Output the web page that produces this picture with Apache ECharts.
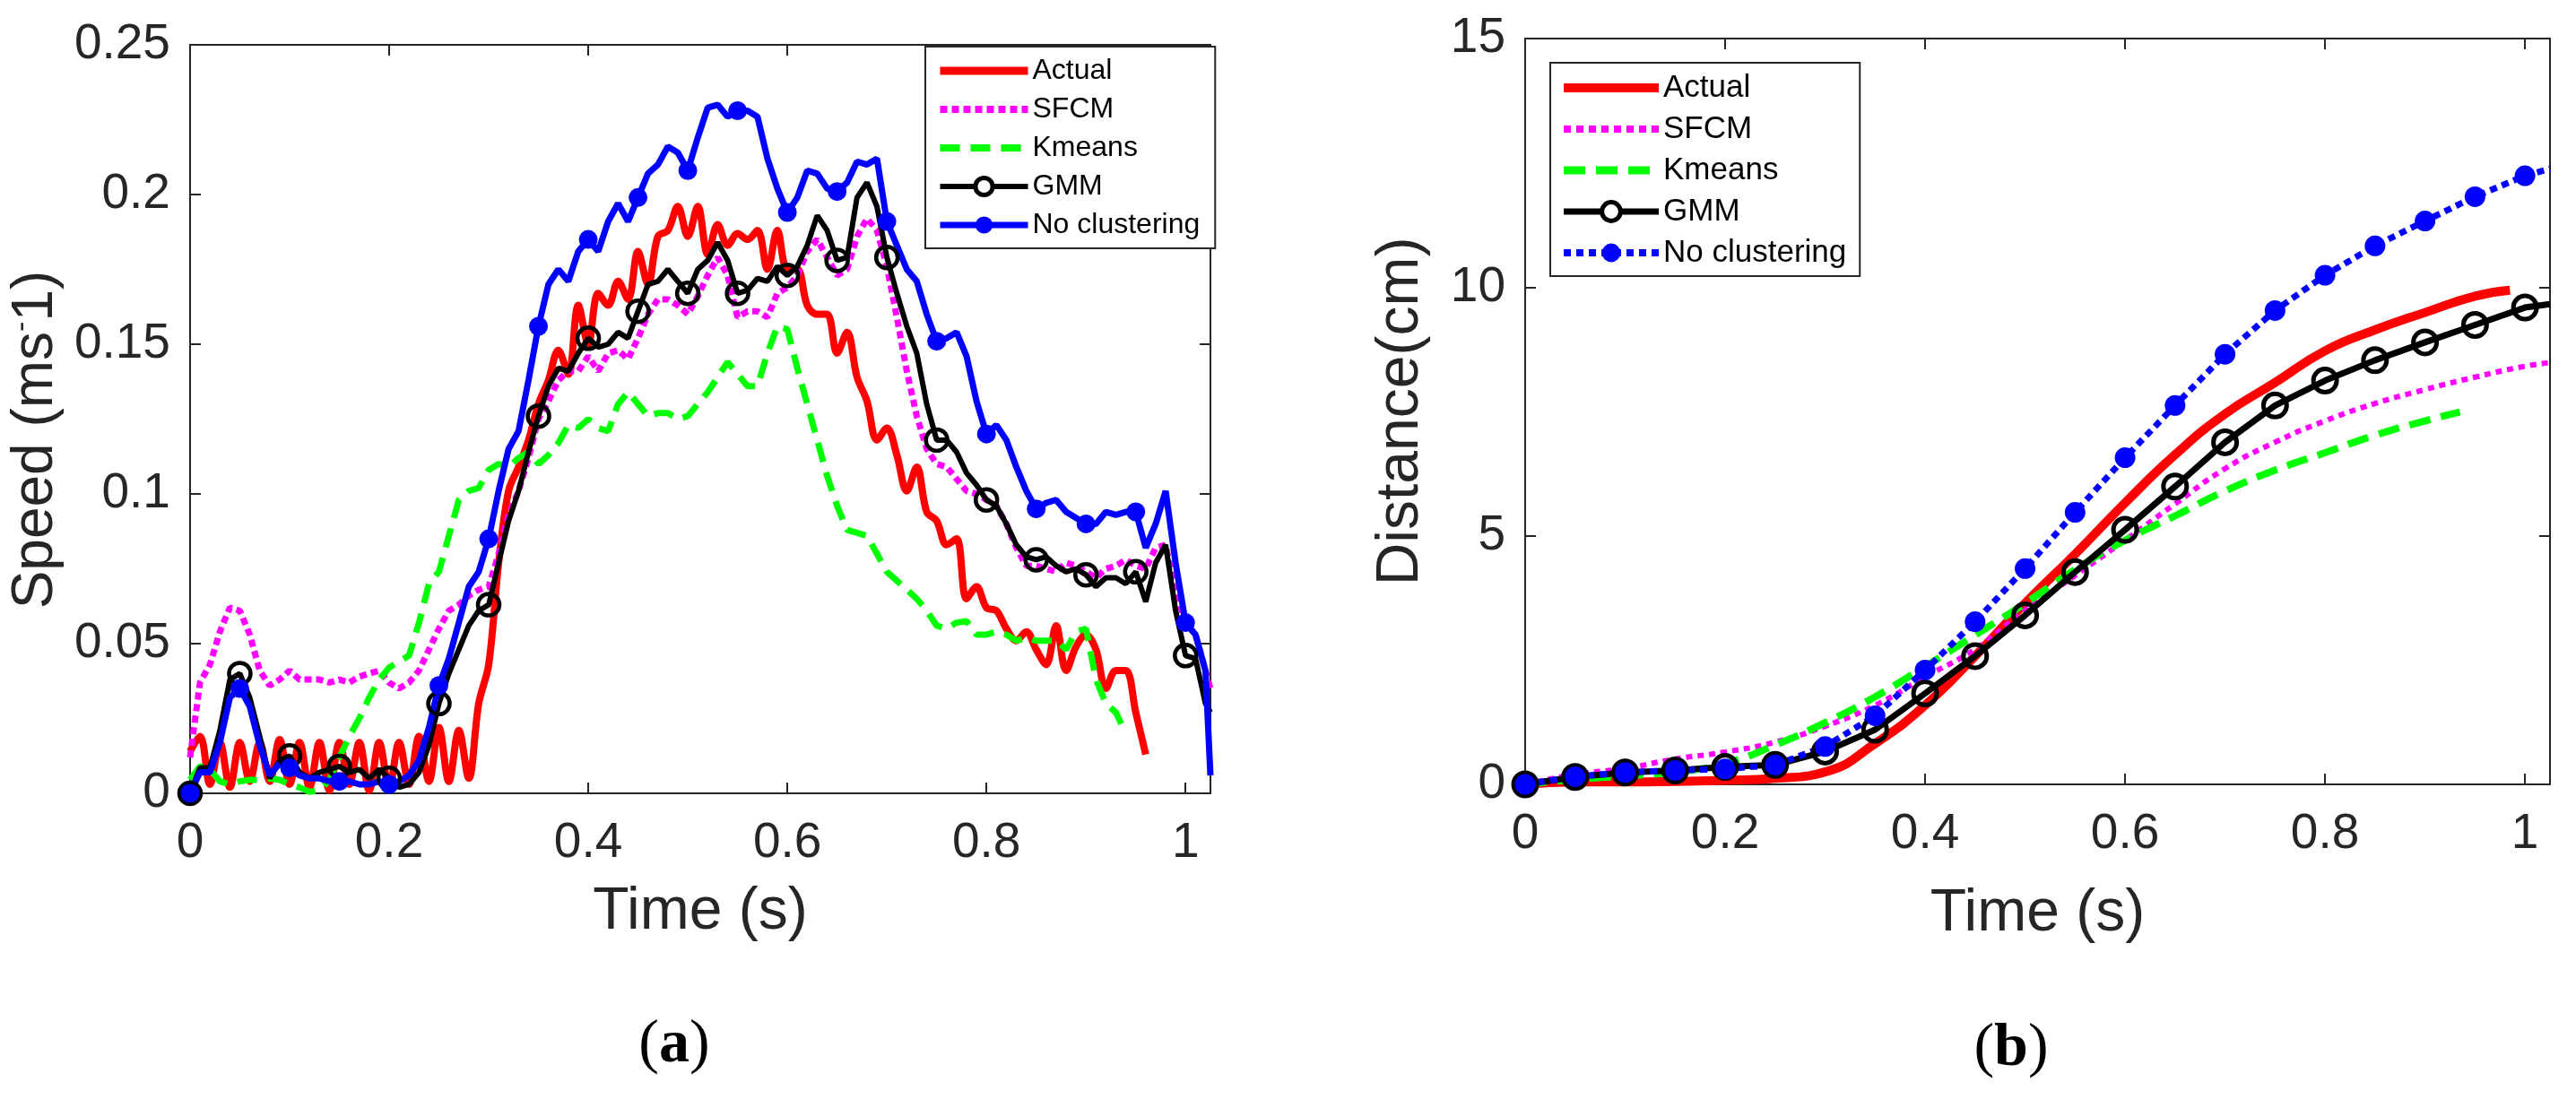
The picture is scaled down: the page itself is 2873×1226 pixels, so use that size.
<!DOCTYPE html>
<html>
<head>
<meta charset="utf-8">
<script src="https://cdn.jsdelivr.net/npm/echarts@6/dist/echarts.min.js"></script>
<style>
  html, body { margin: 0; padding: 0; background: #fff; }
  #chartA { position: absolute; left: 0; top: 0; width: 1436px; height: 1226px; }
  #chartB { position: absolute; left: 1436px; top: 0; width: 1437px; height: 1226px; }
</style>
</head>
<body>
<div id="chartA"></div>
<div id="chartB"></div>
<script>
// ---- (a) speed, sampled every 0.01 s ----
const timeA = [
  0, 0.01, 0.02, 0.03, 0.04, 0.05, 0.06, 0.07, 0.08, 0.09,
  0.1, 0.11, 0.12, 0.13, 0.14, 0.15, 0.16, 0.17, 0.18, 0.19,
  0.2, 0.21, 0.22, 0.23, 0.24, 0.25, 0.26, 0.27, 0.28, 0.29,
  0.3, 0.31, 0.32, 0.33, 0.34, 0.35, 0.36, 0.37, 0.38, 0.39,
  0.4, 0.41, 0.42, 0.43, 0.44, 0.45, 0.46, 0.47, 0.48, 0.49,
  0.5, 0.51, 0.52, 0.53, 0.54, 0.55, 0.56, 0.57, 0.58, 0.59,
  0.6, 0.61, 0.62, 0.63, 0.64, 0.65, 0.66, 0.67, 0.68, 0.69,
  0.7, 0.71, 0.72, 0.73, 0.74, 0.75, 0.76, 0.77, 0.78, 0.79,
  0.8, 0.81, 0.82, 0.83, 0.84, 0.85, 0.86, 0.87, 0.88, 0.89,
  0.9, 0.91, 0.92, 0.93, 0.94, 0.95, 0.96, 0.97, 0.98, 0.99,
  1, 1.01, 1.02, 1.025
];

const speedActual = [
  0.014, 0.019, 0.003, 0.017, 0.002, 0.017, 0.004, 0.017, 0.004, 0.018,
  0.003, 0.017, 0.002, 0.017, 0.001, 0.017, 0.003, 0.017, 0.001, 0.017,
  0.002, 0.017, 0.003, 0.019, 0.004, 0.022, 0.004, 0.021, 0.005, 0.030,
  0.043, 0.077, 0.101, 0.109, 0.118, 0.130, 0.138, 0.148, 0.140, 0.163,
  0.150, 0.167, 0.163, 0.171, 0.165, 0.181, 0.170, 0.186, 0.188, 0.196,
  0.186, 0.196, 0.180, 0.190, 0.183, 0.187, 0.185, 0.188, 0.175, 0.188,
  0.175, 0.175, 0.163, 0.160, 0.160, 0.147, 0.154, 0.139, 0.131, 0.118,
  0.122, 0.113, 0.101, 0.109, 0.094, 0.091, 0.083, 0.085, 0.065, 0.069,
  0.062, 0.061, 0.055, 0.051, 0.054, 0.048, 0.043, 0.056, 0.041, 0.049,
  0.053, 0.048, 0.035, 0.041, 0.041, 0.027, 0.013
];

const speedSfcm = [
  0.012, 0.037, 0.043, 0.054, 0.062, 0.061, 0.053, 0.041, 0.036, 0.038,
  0.041, 0.038, 0.038, 0.038, 0.037, 0.038, 0.037, 0.039, 0.040, 0.041,
  0.037, 0.035, 0.037, 0.041, 0.048, 0.055, 0.061, 0.063, 0.066, 0.068,
  0.069, 0.080, 0.093, 0.101, 0.112, 0.125, 0.131, 0.138, 0.141, 0.141,
  0.146, 0.141, 0.147, 0.148, 0.145, 0.152, 0.160, 0.165, 0.165, 0.163,
  0.160, 0.166, 0.173, 0.179, 0.173, 0.159, 0.161, 0.161, 0.159, 0.167,
  0.169, 0.173, 0.181, 0.185, 0.179, 0.173, 0.175, 0.186, 0.192, 0.188,
  0.176, 0.159, 0.141, 0.126, 0.115, 0.110, 0.109, 0.105, 0.101, 0.100,
  0.098, 0.096, 0.090, 0.082, 0.076, 0.076, 0.075, 0.074, 0.077, 0.076,
  0.074, 0.072, 0.075, 0.076, 0.078, 0.076, 0.075, 0.082, 0.083, 0.067,
  0.057, 0.053, 0.041, 0.035
];

const speedKmeans = [
  0.0045, 0.009, 0.008, 0.004, 0.003, 0.004, 0.0045, 0.0045, 0.005, 0.0045,
  0.003, 0.002, 0.0005, 0.001, 0.0045, 0.012, 0.019, 0.025, 0.032, 0.038,
  0.042, 0.044, 0.046, 0.057, 0.070, 0.074, 0.086, 0.098, 0.101, 0.102,
  0.108, 0.110, 0.109, 0.112, 0.114, 0.110, 0.113, 0.117, 0.123, 0.122,
  0.125, 0.122, 0.121, 0.130, 0.134, 0.130, 0.126, 0.127, 0.127, 0.125,
  0.126, 0.130, 0.134, 0.139, 0.144, 0.140, 0.136, 0.136, 0.147, 0.156,
  0.155, 0.142, 0.130, 0.118, 0.106, 0.096, 0.088, 0.087, 0.086, 0.080,
  0.074, 0.071, 0.068, 0.065, 0.061, 0.056, 0.055, 0.057, 0.0575, 0.053,
  0.053, 0.054, 0.053, 0.051, 0.052, 0.051, 0.051, 0.051, 0.048, 0.054,
  0.055, 0.038, 0.030, 0.027, 0.020
];

const speedGmm = [
  0, 0.0085, 0.0085, 0.021, 0.038, 0.040, 0.032, 0.019, 0.005, 0.011,
  0.0125, 0.007, 0.005, 0.007, 0.008, 0.009, 0.007, 0.008, 0.005, 0.008,
  0.005, 0.002, 0.003, 0.007, 0.016, 0.030, 0.040, 0.048, 0.056, 0.061,
  0.063, 0.077, 0.091, 0.101, 0.114, 0.126, 0.136, 0.142, 0.141, 0.147,
  0.152, 0.149, 0.150, 0.154, 0.152, 0.161, 0.170, 0.171, 0.175, 0.171,
  0.167, 0.175, 0.178, 0.184, 0.178, 0.167, 0.168, 0.172, 0.171, 0.176,
  0.173, 0.176, 0.183, 0.193, 0.188, 0.178, 0.179, 0.199, 0.204, 0.196,
  0.179, 0.167, 0.156, 0.147, 0.130, 0.118, 0.118, 0.114, 0.107, 0.103,
  0.098, 0.096, 0.090, 0.083, 0.079, 0.078, 0.079, 0.076, 0.074, 0.075,
  0.073, 0.069, 0.072, 0.072, 0.070, 0.074, 0.064, 0.077, 0.083, 0.061,
  0.046, 0.045, 0.030, 0.027
];

const speedNoClust = [
  0, 0.007, 0.007, 0.017, 0.032, 0.035, 0.029, 0.016, 0.006, 0.010,
  0.0085, 0.006, 0.005, 0.005, 0.004, 0.004, 0.004, 0.003, 0.003, 0.004,
  0.003, 0.004, 0.006, 0.011, 0.022, 0.036, 0.045, 0.057, 0.069, 0.074,
  0.085, 0.101, 0.115, 0.121, 0.138, 0.156, 0.170, 0.175, 0.171, 0.181,
  0.185, 0.181, 0.191, 0.197, 0.191, 0.199, 0.207, 0.210, 0.216, 0.214,
  0.208, 0.219, 0.229, 0.230, 0.226, 0.228, 0.228, 0.226, 0.212, 0.202,
  0.194, 0.199, 0.208, 0.207, 0.202, 0.201, 0.204, 0.211, 0.210, 0.212,
  0.191, 0.183, 0.175, 0.171, 0.160, 0.151, 0.152, 0.154, 0.146, 0.131,
  0.120, 0.123, 0.118, 0.109, 0.101, 0.095, 0.097, 0.098, 0.094, 0.092,
  0.090, 0.090, 0.094, 0.093, 0.094, 0.094, 0.082, 0.090, 0.101, 0.077,
  0.057, 0.053, 0.041, 0.006
];

// ---- (b) distance, sampled every 0.05 s ----
const timeB = [0, 0.05, 0.1, 0.15, 0.2, 0.25, 0.3, 0.35, 0.4, 0.45, 0.5,
  0.55, 0.6, 0.65, 0.7, 0.75, 0.8, 0.85, 0.9, 0.95, 1, 1.025];
const timeBActual = [0, 0.05, 0.1, 0.15, 0.2, 0.25, 0.3, 0.35, 0.4, 0.45, 0.5,
  0.55, 0.6, 0.65, 0.7, 0.75, 0.8, 0.85, 0.9, 0.95, 0.985];
const timeBKmeans = [0, 0.05, 0.1, 0.15, 0.2, 0.25, 0.3, 0.35, 0.4, 0.45, 0.5,
  0.55, 0.6, 0.65, 0.7, 0.75, 0.8, 0.85, 0.9, 0.935];

const distActual = [0, 0.05, 0.05, 0.06, 0.08, 0.12, 0.25, 0.82, 1.59, 2.58, 3.64,
  4.63, 5.66, 6.63, 7.45, 8.08, 8.72, 9.14, 9.49, 9.82, 9.94];
const distSfcm = [0, 0.2, 0.32, 0.51, 0.65, 0.85, 1.17, 1.59, 2.16, 2.72, 3.5,
  4.2, 4.91, 5.64, 6.35, 6.88, 7.31, 7.66, 7.94, 8.19, 8.41, 8.48];
const distKmeans = [0, 0.1, 0.17, 0.25, 0.42, 0.79, 1.24, 1.76, 2.37, 3.0, 3.64,
  4.32, 4.91, 5.4, 5.9, 6.32, 6.67, 7.02, 7.31, 7.49];
const distGmm = [0, 0.15, 0.24, 0.28, 0.35, 0.39, 0.66, 1.1, 1.83, 2.58, 3.4,
  4.27, 5.12, 5.99, 6.88, 7.62, 8.12, 8.53, 8.89, 9.24, 9.59, 9.66];
const distNoClust = [0, 0.155, 0.24, 0.28, 0.31, 0.39, 0.76, 1.38, 2.3, 3.27, 4.34,
  5.47, 6.57, 7.62, 8.65, 9.53, 10.24, 10.83, 11.33, 11.82, 12.24, 12.38];

const seriesNames = ['Actual', 'SFCM', 'Kmeans', 'GMM', 'No clustering'];
const xTicks = [0, 0.2, 0.4, 0.6, 0.8, 1];

const FONT = '"Liberation Sans", Arial, Helvetica, sans-serif';
const INK = '#262626';
const RED = '#ff0000', MAG = '#ff00ff', GRN = '#00ff00', BLK = '#000000', BLU = '#0000ff';

// pair times with values; markAt decides which points carry a marker
function pairs(ts, vs, markAt) {
  return vs.map((v, i) => {
    const item = { value: [ts[i], v] };
    if (markAt && !markAt(i, ts[i])) item.symbol = 'none';
    return item;
  });
}

function axes(yMax, yStep, xGap, yGap, yName, yNameStyle) {
  const line = { onZero: false, lineStyle: { color: INK, width: 2 } };
  const tick = { inside: true, length: 12, lineStyle: { color: INK, width: 2 } };
  const label = { fontSize: 55, color: INK, fontFamily: FONT };
  return {
    xAxis: [
      {
        type: 'value', min: 0, max: 1.025, interval: 0.2,
        name: 'Time (s)', nameLocation: 'middle', nameGap: xGap,
        nameTextStyle: { fontSize: 66, color: INK, fontFamily: FONT },
        axisLine: line, axisTick: tick, splitLine: { show: false },
        axisLabel: Object.assign({ margin: 28, showMaxLabel: false,
          formatter: v => xTicks.includes(+v.toFixed(3)) ? String(+v.toFixed(3)) : '' }, label)
      },
      {
        type: 'value', position: 'top', min: 0, max: 1.025, interval: 0.2,
        axisLine: line, axisTick: tick, splitLine: { show: false },
        axisLabel: { show: false }
      }
    ],
    yAxis: [
      {
        type: 'value', min: 0, max: yMax, interval: yStep,
        name: yName, nameLocation: 'middle', nameGap: yGap,
        nameTextStyle: yNameStyle,
        axisLine: line, axisTick: tick, splitLine: { show: false },
        axisLabel: Object.assign({ margin: 22 }, label)
      },
      {
        type: 'value', position: 'right', min: 0, max: yMax, interval: yStep,
        axisLine: line, axisTick: tick, splitLine: { show: false },
        axisLabel: { show: false }
      }
    ]
  };
}

// legend entries drawn like the series: plain lines hide the symbol
function legendItems(widths, dashes) {
  const hidden = { color: 'rgba(0,0,0,0)', borderWidth: 0, opacity: 0 };
  return [
    { name: 'Actual', itemStyle: hidden, lineStyle: { color: RED, width: widths[0] } },
    { name: 'SFCM', itemStyle: hidden, lineStyle: { color: MAG, width: widths[1], type: dashes[0] } },
    { name: 'Kmeans', itemStyle: hidden, lineStyle: { color: GRN, width: widths[2], type: dashes[1] } },
    { name: 'GMM', itemStyle: { color: '#fff', borderColor: BLK, borderWidth: 5 },
      lineStyle: { color: BLK, width: widths[3] } },
    { name: 'No clustering', itemStyle: { color: BLU, borderWidth: 0 },
      lineStyle: { color: BLU, width: widths[4], type: dashes[2] } }
  ];
}

function subLabel(x, y, letter) {
  return [{
    type: 'text', x: x, y: y,
    style: {
      text: '{p|(}{b|' + letter + '}{p|)}',
      align: 'center', verticalAlign: 'middle',
      rich: {
        p: { fontFamily: '"Liberation Serif", "DejaVu Serif", serif', fontSize: 68, fill: '#000' },
        b: { fontFamily: '"Liberation Serif", "DejaVu Serif", serif', fontSize: 68, fontWeight: 'bold', fill: '#000' }
      }
    }
  }];
}

// ---------- chart (a) ----------
const chartA = echarts.init(document.getElementById('chartA'));
const markA = (i, t) => i % 5 === 0 && t <= 1;
chartA.setOption(Object.assign({
  animation: false,
  backgroundColor: '#fff',
  grid: { left: 207, top: 50, width: 1143, height: 835 },
  legend: {
    orient: 'vertical', left: 1032, top: 52,
    itemWidth: 98, itemHeight: 24, itemGap: 7,
    padding: [9, 17, 8, 12],
    backgroundColor: '#fff', borderColor: INK, borderWidth: 2, borderRadius: 0,
    textStyle: { fontSize: 32, lineHeight: 36, color: '#000', fontFamily: FONT },
    data: legendItems([9, 8, 8, 6, 7], [[8, 5], [22, 12], 'solid'])
  },
  graphic: subLabel(752, 1166, 'a'),
  series: [
    {
      name: 'Actual', type: 'line', symbol: 'none', smooth: 0.35,
      color: RED, lineStyle: { color: RED, width: 8 },
      data: pairs(timeA, speedActual)
    },
    {
      name: 'SFCM', type: 'line', symbol: 'none',
      color: MAG, lineStyle: { color: MAG, width: 7, type: [8, 5] },
      data: pairs(timeA, speedSfcm)
    },
    {
      name: 'Kmeans', type: 'line', symbol: 'none',
      color: GRN, lineStyle: { color: GRN, width: 7, type: [22, 12] },
      data: pairs(timeA, speedKmeans)
    },
    {
      name: 'GMM', type: 'line', symbol: 'circle', symbolSize: 24, showAllSymbol: true,
      color: BLK, lineStyle: { color: BLK, width: 6 },
      itemStyle: { color: 'rgba(255,255,255,0)', borderColor: BLK, borderWidth: 4.5 },
      data: pairs(timeA, speedGmm, markA)
    },
    {
      name: 'No clustering', type: 'line', symbol: 'circle', symbolSize: 21, showAllSymbol: true,
      color: BLU, lineStyle: { color: BLU, width: 7 },
      itemStyle: { color: BLU, borderWidth: 0 },
      data: pairs(timeA, speedNoClust, markA)
    }
  ]
}, axes(0.25, 0.05, 100, 112, 'Speed (ms{sup|-}1)', {
  fontSize: 64, color: INK, fontFamily: FONT, padding: [0, 46, 0, 0],
  rich: { sup: { fontSize: 34, color: INK, fontFamily: FONT, verticalAlign: 'top' } }
})));

// ---------- chart (b) ----------
const chartB = echarts.init(document.getElementById('chartB'));
const markB = (i, t) => t <= 1;
chartB.setOption(Object.assign({
  animation: false,
  backgroundColor: '#fff',
  grid: { left: 265, top: 43, width: 1143, height: 832 },
  legend: {
    orient: 'vertical', left: 293, top: 70,
    itemWidth: 106, itemHeight: 26, itemGap: 6,
    padding: [8, 15, 6, 10],
    backgroundColor: '#fff', borderColor: INK, borderWidth: 2, borderRadius: 0,
    textStyle: { fontSize: 35, lineHeight: 40, color: '#000', fontFamily: FONT },
    data: legendItems([10, 8, 9, 7, 8], [[8, 6], [24, 12], [8, 6]])
  },
  graphic: subLabel(807, 1170, 'b'),
  series: [
    {
      name: 'Actual', type: 'line', symbol: 'none', smooth: true,
      color: RED, lineStyle: { color: RED, width: 10 },
      data: pairs(timeBActual, distActual)
    },
    {
      name: 'SFCM', type: 'line', symbol: 'none', smooth: true,
      color: MAG, lineStyle: { color: MAG, width: 6, type: [7, 6] },
      data: pairs(timeB, distSfcm)
    },
    {
      name: 'Kmeans', type: 'line', symbol: 'none', smooth: true,
      color: GRN, lineStyle: { color: GRN, width: 8, type: [24, 12] },
      data: pairs(timeBKmeans, distKmeans)
    },
    {
      name: 'GMM', type: 'line', symbol: 'circle', symbolSize: 26, showAllSymbol: true,
      color: BLK, lineStyle: { color: BLK, width: 7 },
      itemStyle: { color: 'rgba(255,255,255,0)', borderColor: BLK, borderWidth: 5 },
      data: pairs(timeB, distGmm, markB)
    },
    {
      name: 'No clustering', type: 'line', symbol: 'circle', symbolSize: 23, showAllSymbol: true,
      color: BLU, lineStyle: { color: BLU, width: 7, type: [8, 6] },
      itemStyle: { color: BLU, borderWidth: 0 },
      data: pairs(timeB, distNoClust, markB)
    }
  ]
}, axes(15, 5, 112, 105, 'Distance(cm)', {
  fontSize: 66, color: INK, fontFamily: FONT
})));
</script>
</body>
</html>
